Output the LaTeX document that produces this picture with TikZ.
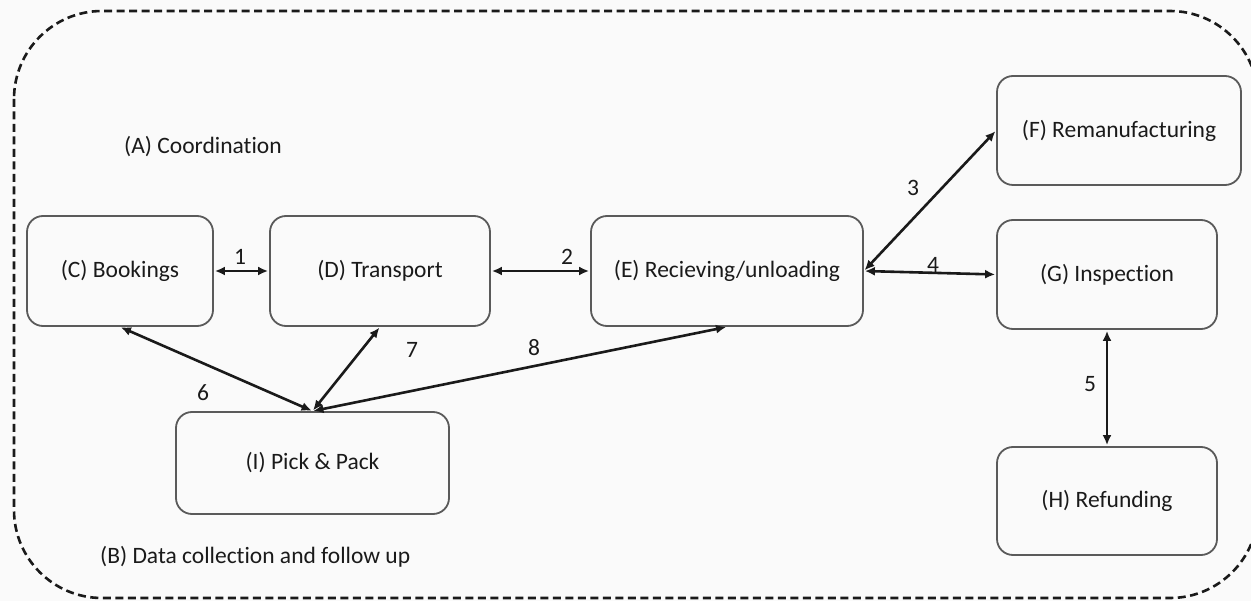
\documentclass[tikz,border=0pt]{standalone}
\usepackage{fontspec}
\setmainfont{Carlito}[Ligatures=NoCommon]
\usetikzlibrary{arrows.meta}
\definecolor{paper}{HTML}{FAFAFA}
\definecolor{boxline}{HTML}{5A5A5A}
\definecolor{ink}{HTML}{1A1A1A}
\tikzset{
  procbox/.style={draw=boxline, line width=1.8pt, rounded corners=16pt, fill=paper,
    text=ink, font=\fontsize{23.5}{28}\selectfont, inner sep=0pt, align=center},
  link/.style={line width=2.6pt, ink, {Latex[length=10pt,width=9pt]}-{Latex[length=10pt,width=9pt]}, shorten <=1pt, shorten >=1pt},
  numlabel/.style={text=ink, font=\fontsize{23.5}{28}\selectfont, inner sep=0pt},
  zonelabel/.style={text=ink, font=\fontsize{23.5}{28}\selectfont, inner sep=0pt, anchor=west}
}
\begin{document}
\begin{tikzpicture}[x=1pt,y=-1pt]
  \useasboundingbox (0,0) rectangle (1251,601);
  \fill[paper] (0,0) rectangle (1251,601);
  % outer dashed frame
  \draw[line width=2.6pt, ink, dash pattern=on 8pt off 4.5pt, rounded corners=88pt]
    (14,11) rectangle (1258,598);

  % process boxes
  \node[procbox, minimum width=186pt, minimum height=110pt] (C) at (120,271) {(C) Bookings};
  \node[procbox, minimum width=220pt, minimum height=110pt] (D) at (380,271) {(D) Transport};
  \node[procbox, minimum width=272pt, minimum height=110pt] (E) at (727,271) {(E) Recieving/unloading};
  \node[procbox, minimum width=244pt, minimum height=109pt] (F) at (1119,130.5) {(F) Remanufacturing};
  \node[procbox, minimum width=220pt, minimum height=109pt] (G) at (1107,274.5) {(G) Inspection};
  \node[procbox, minimum width=220pt, minimum height=108pt] (H) at (1107,501) {(H) Refunding};
  \node[procbox, minimum width=273pt, minimum height=102pt] (I) at (312.5,463) {(I) Pick \& Pack};

  % zone labels
  \node[zonelabel] (zA) at (124,147) {(A) Coordination};
  \node[zonelabel] (zB) at (100,557) {(B) Data collection and follow up};

  % connectors
  \draw[link] (C.east) -- (D.west);
  \draw[link] (D.east) -- (E.west);
  \draw[link] (E.east) -- (F.west);
  \draw[link] (E.east) -- (G.west);
  \draw[link] (G.south) -- (H.north);
  \draw[link] (C.south) -- (I.north);
  \draw[link] (D.south) -- (I.north);
  \draw[link] (I.north) -- (E.south);

  % connector numbers
  \node[numlabel] (n1) at (240,257) {1};
  \node[numlabel] (n2) at (567,257) {2};
  \node[numlabel] (n3) at (913,188) {3};
  \node[numlabel] (n4) at (933,265) {4};
  \node[numlabel] (n5) at (1090,384) {5};
  \node[numlabel] (n6) at (203,393) {6};
  \node[numlabel] (n7) at (412,350) {7};
  \node[numlabel] (n8) at (534,348) {8};
\end{tikzpicture}
\end{document}
